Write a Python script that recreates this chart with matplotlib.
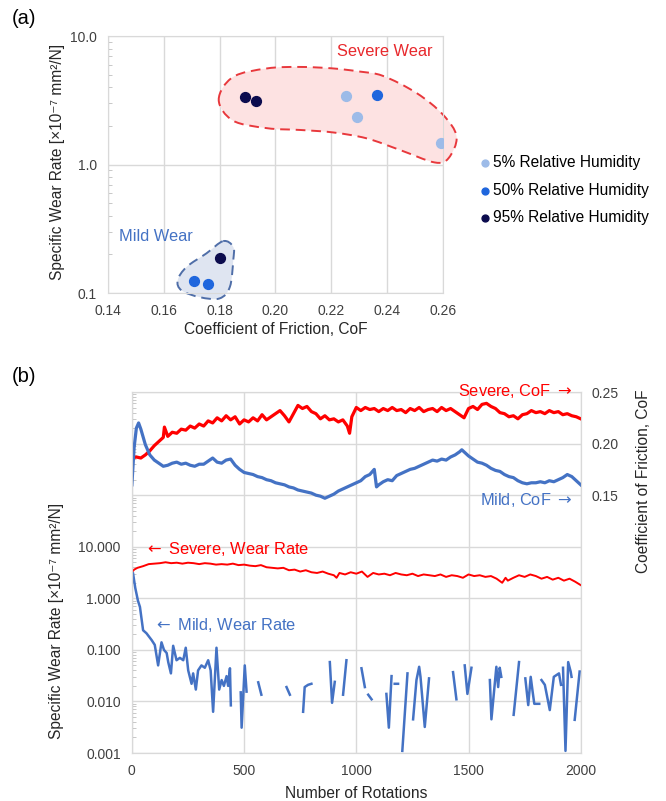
"""
Wear map (a) and wear rate / friction history (b)
"""
import numpy as np
import matplotlib
matplotlib.use("Agg")
import matplotlib.pyplot as plt
from matplotlib.path import Path
from matplotlib.patches import PathPatch

plt.rcParams['font.family'] = ['Liberation Sans', 'DejaVu Sans']
plt.rcParams['font.size'] = 10

RED = '#ff0000'
BLUE = '#4472c4'
GRID = '#d9d9d9'

# ---------------- panel (a) data ----------------
rh_labels = ['5% Relative Humidity', '50% Relative Humidity', '95% Relative Humidity']
rh_colors = ['#9dbbe8', '#1f66dd', '#0c0c4e']
cof_5 = [0.2253, 0.2293, 0.2593]
wr_5 = [3.41, 2.34, 1.48]
cof_50 = [0.2365, 0.171, 0.176]
wr_50 = [3.49, 0.125, 0.117]
cof_95 = [0.189, 0.193, 0.180]
wr_95 = [3.33, 3.12, 0.188]

# outlines of the wear regions (CoF, wear rate)
severe_zone_cof = [0.1797, 0.1848, 0.197, 0.2088, 0.2206, 0.2300, 0.2385, 0.2506, 0.2600,
                   0.2649, 0.2620, 0.2570, 0.2446, 0.2327, 0.2206, 0.2088, 0.197, 0.1848]
severe_zone_wr = [3.2, 4.8, 5.6, 5.75, 5.6, 5.3, 4.9, 3.6, 2.45,
                  1.65, 1.12, 1.04, 1.30, 1.60, 1.78, 1.86, 1.92, 2.2]
mild_zone_cof = [0.1813, 0.1849, 0.1849, 0.1837, 0.180, 0.173, 0.1664, 0.165, 0.1682, 0.1753]
mild_zone_wr = [0.254, 0.229, 0.18, 0.112, 0.091, 0.093, 0.105, 0.126, 0.16, 0.204]

# ---------------- panel (b) data ----------------
sev_cof_rot = [0, 20, 40, 60, 80, 100, 120, 140, 145, 160, 180, 200, 220, 240, 260, 280,
               300, 320, 340, 360, 380, 400, 420, 440, 460, 480, 500, 520, 540, 560,
               580, 600, 620, 640, 660, 680, 700, 720, 740, 760, 780, 800, 820, 840,
               860, 880, 900, 920, 940, 960, 970, 980, 1000, 1020, 1040, 1060, 1080,
               1100, 1120, 1140, 1160, 1180, 1200, 1220, 1240, 1260, 1280, 1300, 1320,
               1340, 1360, 1380, 1400, 1420, 1440, 1460, 1480, 1500, 1520, 1540, 1560,
               1580, 1600, 1620, 1640, 1660, 1680, 1700, 1720, 1740, 1760, 1780, 1800,
               1820, 1840, 1860, 1880, 1900, 1920, 1940, 1960, 1980, 2000]
sev_cof = [0.186, 0.187, 0.186, 0.189, 0.193, 0.198, 0.202, 0.206, 0.216, 0.207, 0.211,
           0.210, 0.214, 0.213, 0.217, 0.215, 0.219, 0.217, 0.222, 0.220, 0.225, 0.222,
           0.227, 0.223, 0.226, 0.219, 0.223, 0.221, 0.225, 0.222, 0.228, 0.223, 0.226,
           0.229, 0.232, 0.227, 0.221, 0.229, 0.237, 0.234, 0.236, 0.231, 0.229, 0.224,
           0.227, 0.223, 0.224, 0.221, 0.223, 0.217, 0.210, 0.226, 0.235, 0.232, 0.235,
           0.233, 0.234, 0.231, 0.234, 0.232, 0.235, 0.232, 0.233, 0.230, 0.234, 0.232,
           0.235, 0.231, 0.233, 0.234, 0.231, 0.235, 0.232, 0.234, 0.231, 0.228, 0.225,
           0.234, 0.236, 0.233, 0.238, 0.239, 0.236, 0.234, 0.230, 0.229, 0.226, 0.227,
           0.224, 0.228, 0.229, 0.232, 0.230, 0.231, 0.229, 0.232, 0.230, 0.231, 0.228,
           0.229, 0.227, 0.226, 0.224]

mild_cof_rot = [0, 10, 20, 30, 40, 60, 80, 100, 120, 140, 160, 180, 200, 220, 240, 260,
                280, 300, 320, 340, 360, 380, 400, 420, 440, 460, 480, 500, 520, 540,
                560, 580, 600, 620, 640, 660, 680, 700, 720, 740, 760, 780, 800, 820,
                840, 860, 880, 900, 920, 940, 960, 980, 1000, 1020, 1040, 1060, 1080,
                1090, 1100, 1120, 1140, 1160, 1180, 1200, 1220, 1240, 1260, 1280, 1300,
                1320, 1340, 1360, 1380, 1400, 1420, 1440, 1460, 1470, 1480, 1500, 1520,
                1540, 1560, 1580, 1600, 1620, 1640, 1660, 1680, 1700, 1720, 1740, 1760,
                1780, 1800, 1820, 1840, 1860, 1880, 1900, 1920, 1940, 1960, 1980, 2000]
mild_cof = [0.160, 0.196, 0.215, 0.220, 0.214, 0.199, 0.189, 0.184, 0.181, 0.178, 0.179,
            0.181, 0.182, 0.180, 0.181, 0.179, 0.178, 0.180, 0.180, 0.183, 0.186, 0.182,
            0.181, 0.184, 0.185, 0.179, 0.175, 0.172, 0.171, 0.170, 0.168, 0.167, 0.165,
            0.164, 0.162, 0.161, 0.160, 0.158, 0.157, 0.155, 0.154, 0.153, 0.152, 0.150,
            0.149, 0.147, 0.149, 0.151, 0.154, 0.156, 0.158, 0.160, 0.162, 0.164, 0.168,
            0.170, 0.175, 0.158, 0.160, 0.163, 0.165, 0.164, 0.169, 0.171, 0.173, 0.175,
            0.176, 0.178, 0.180, 0.182, 0.184, 0.183, 0.185, 0.184, 0.187, 0.189, 0.192,
            0.194, 0.192, 0.188, 0.185, 0.182, 0.181, 0.179, 0.176, 0.174, 0.173, 0.170,
            0.168, 0.167, 0.164, 0.162, 0.161, 0.162, 0.162, 0.163, 0.162, 0.164, 0.163,
            0.165, 0.167, 0.170, 0.168, 0.164, 0.160]

sev_wr_rot = [0, 10, 25, 50, 75, 100, 125, 150, 175, 200, 225, 250, 275, 300, 325, 350,
              375, 400, 425, 450, 475, 500, 525, 550, 575, 600, 625, 650, 675, 700, 725,
              750, 775, 800, 825, 850, 875, 900, 912, 925, 950, 975, 1000, 1025, 1050,
              1075, 1100, 1125, 1150, 1175, 1200, 1225, 1250, 1275, 1300, 1325, 1350,
              1375, 1400, 1425, 1450, 1475, 1500, 1525, 1550, 1575, 1600, 1625, 1650,
              1665, 1675, 1700, 1725, 1750, 1775, 1800, 1825, 1850, 1875, 1900, 1925,
              1950, 1975, 2000]
sev_wr = [3.2, 3.6, 3.9, 4.2, 4.6, 4.7, 4.8, 5.0, 4.8, 4.9, 4.7, 4.9, 4.8, 4.6, 4.8, 4.7,
          4.5, 4.6, 4.5, 4.7, 4.4, 4.5, 4.3, 4.2, 4.4, 4.0, 3.9, 3.8, 3.9, 3.5, 3.6, 3.3,
          3.5, 3.2, 3.1, 3.3, 3.0, 2.8, 2.5, 3.1, 2.9, 3.2, 3.0, 3.3, 2.6, 3.1, 2.9, 3.0,
          2.8, 3.1, 2.9, 2.8, 3.0, 2.7, 2.9, 2.8, 2.7, 2.9, 2.6, 2.8, 2.7, 2.5, 2.9, 2.7,
          2.8, 2.6, 2.7, 2.4, 2.0, 2.5, 2.2, 2.5, 2.8, 2.6, 2.9, 2.7, 2.4, 2.6, 2.3, 2.5,
          2.2, 2.4, 2.1, 1.8]

nan = np.nan
mild_wr_rot = [0, 5, 15, 27, 36, 50, 65, 88, 102, 117, 132, 143, 155, 162, 174, 184, 199,
               214, 229, 240, 251, 266, 273, 285, 295, 310, 325, 340, 351, 362, 377, 389,
               400, 410, 422, 429, 437, 441, 460,
               485, 489, 503, 511, 530,
               563, 577, 600,
               689, 704, 720,
               763, 770, 785, 800, 820,
               882, 892, 904, 920,
               941, 956, 980,
               1023, 1038, 1045, 1053, 1068, 1090,
               1134, 1145, 1157, 1164, 1171, 1186, 1195,
               1205, 1228, 1240,
               1253, 1268, 1280, 1286, 1305, 1324, 1400,
               1431, 1446, 1470,
               1483, 1495, 1513, 1560,
               1595, 1602, 1624, 1632, 1639, 1646, 1680,
               1701, 1725, 1740,
               1753, 1766, 1777, 1786, 1793, 1815, 1820,
               1825, 1840, 1862, 1880, 1903, 1912, 1916,
               1921, 1932, 1944, 1955, 1959, 1966,
               1973, 1995]
mild_wr = [2.0, 3.1, 1.6, 0.9, 0.68, 0.24, 0.21, 0.155, 0.125, 0.05, 0.14, 0.10, 0.087,
           0.058, 0.035, 0.12, 0.063, 0.07, 0.063, 0.11, 0.04, 0.022, 0.035, 0.017, 0.04,
           0.05, 0.045, 0.063, 0.04, 0.0063, 0.11, 0.017, 0.026, 0.02, 0.031, 0.02, 0.044,
           0.0084, nan,
           0.015, 0.0031, 0.05, 0.0155, nan,
           0.0235, 0.0135, nan,
           0.019, 0.0135, nan,
           0.0063, 0.019, 0.021, 0.022, nan,
           0.058, 0.0094, 0.024, nan,
           0.0135, 0.063, nan,
           0.044, 0.019, nan, 0.0135, 0.011, nan,
           0.014, 0.0031, 0.031, nan, 0.022, 0.022, nan,
           0.0011, 0.035, nan,
           0.0045, 0.026, 0.047, 0.03, 0.0032, 0.028, nan,
           0.037, 0.011, nan,
           0.05, 0.014, 0.045, nan,
           0.026, 0.0045, 0.047, 0.019, 0.045, 0.03, nan,
           0.0055, 0.058, nan,
           0.028, 0.0085, 0.03, 0.015, 0.009, 0.009, nan,
           0.026, 0.021, 0.0068, 0.03, 0.035, 0.021, nan,
           0.045, 0.0011, 0.058, 0.038, 0.03, nan,
           0.0044, 0.038]


def blob(ax, xs, ys, face, edge):
    # smooth closed outline through the given points (log y)
    pts = np.column_stack([xs, np.log10(ys)])
    n = len(pts)
    verts = [pts[0]]
    codes = [Path.MOVETO]
    for i in range(n):
        p0, p1, p2, p3 = pts[i - 1], pts[i], pts[(i + 1) % n], pts[(i + 2) % n]
        verts += [p1 + (p2 - p0) / 6, p2 - (p3 - p1) / 6, p2]
        codes += [Path.CURVE4] * 3
    verts = np.array(verts)
    verts[:, 1] = 10 ** verts[:, 1]
    ax.add_patch(PathPatch(Path(verts, codes), facecolor=face, edgecolor=edge,
                           lw=1.4, ls=(0, (5, 3)), clip_on=False, zorder=1))


LBL = 11.2   # axis label size
TCK = 10     # tick label size
ANN = 11.8   # annotation size

fig = plt.figure(figsize=(6.66, 8.01), dpi=100)

# ---------------- (a) ----------------
ax = fig.add_axes([0.162, 0.634, 0.503, 0.321])
ax.set_xlim(0.14, 0.26)
ax.set_ylim(0.1, 10)
ax.set_yscale('log')
ax.set_xticks([0.14, 0.16, 0.18, 0.20, 0.22, 0.24, 0.26])
ax.set_xticklabels(['0.14', '0.16', '0.18', '0.20', '0.22', '0.24', '0.26'])
ax.set_yticks([0.1, 1, 10])
ax.set_yticklabels(['0.1', '1.0', '10.0'])
ax.grid(True, which='major', color=GRID, lw=1)
ax.set_axisbelow(True)
for s in ax.spines.values():
    s.set_color(GRID)
ax.tick_params(which='major', length=0, pad=8, labelsize=TCK, colors='#404040')
ax.tick_params(which='minor', length=3, color='#bfbfbf', direction='in', labelleft=False)

blob(ax, severe_zone_cof, severe_zone_wr, '#fde2e2', '#e8383c')
blob(ax, mild_zone_cof, mild_zone_wr, '#dfe5f1', '#4f6ea8')

ax.scatter(cof_5, wr_5, s=50, color=rh_colors[0], label=rh_labels[0], zorder=3)
ax.scatter(cof_50, wr_50, s=50, color=rh_colors[1], label=rh_labels[1], zorder=3)
ax.scatter(cof_95, wr_95, s=50, color=rh_colors[2], label=rh_labels[2], zorder=3)

ax.text(0.2392, 7.55, 'Severe Wear', color='#e8282c', fontsize=ANN, ha='center', va='center')
ax.text(0.1571, 0.274, 'Mild Wear', color=BLUE, fontsize=ANN, ha='center', va='center')

ax.set_xlabel('Coefficient of Friction, CoF', fontsize=LBL, color='#262626', labelpad=3)
ax.set_ylabel('Specific Wear Rate [×10⁻⁷ mm²/N]', fontsize=LBL, color='#262626')
ax.yaxis.set_label_coords(-0.128, 0.512)

ax.legend(loc='center left', bbox_to_anchor=(1.08, 0.40), frameon=False, fontsize=LBL,
          handletextpad=0.0, handlelength=1.0, markerscale=0.7, labelspacing=0.8,
          borderpad=0)

fig.text(0.018, 0.977, '(a)', fontsize=14.5, va='center')

# ---------------- (b) ----------------
bx = fig.add_axes([0.198, 0.0599, 0.674, 0.4507])
bx.set_yscale('log')
bx.set_ylim(0.001, 10000)
bx.set_xlim(0, 2000)
bx.set_xticks([0, 500, 1000, 1500, 2000])
bx.set_xticklabels(['0', '500', '1000', '1500', '2000'])
bx.set_yticks([0.001, 0.01, 0.1, 1, 10, 100, 1000, 10000])
bx.set_yticklabels(['0.001', '0.010', '0.100', '1.000', '10.000', '', '', ''])
bx.grid(True, which='major', color=GRID, lw=1)
bx.set_axisbelow(True)
for s in bx.spines.values():
    s.set_color(GRID)
bx.tick_params(which='major', length=0, pad=8, labelsize=TCK, colors='#404040')
bx.tick_params(which='minor', length=3, color='#bfbfbf', direction='in', labelleft=False)

bx.plot(sev_wr_rot, sev_wr, color=RED, lw=1.4)
bx.plot(mild_wr_rot, mild_wr, color=BLUE, lw=1.8)

bx.set_xlabel('Number of Rotations', fontsize=LBL, color='#262626', labelpad=6)
bx.set_ylabel('Specific Wear Rate [×10⁻⁷ mm²/N]', fontsize=LBL, color='#262626')
bx.yaxis.set_label_coords(-0.152, 0.366)

bx.text(53, 9.0, r'$\leftarrow$ Severe, Wear Rate', color=RED, fontsize=ANN,
        ha='left', va='center')
bx.text(94, 0.3, r'$\leftarrow$ Mild, Wear Rate', color=BLUE, fontsize=ANN,
        ha='left', va='center')

b2 = bx.twinx()
b2.set_ylim(-0.10, 0.25)
b2.set_yticks([0.15, 0.20, 0.25])
b2.set_yticklabels(['0.15', '0.20', '0.25'])
for s in b2.spines.values():
    s.set_color(GRID)
b2.tick_params(length=0, pad=8, labelsize=TCK, colors='#404040')
b2.plot(sev_cof_rot, sev_cof, color=RED, lw=2.3)
b2.plot(mild_cof_rot, mild_cof, color=BLUE, lw=2.3)
b2.set_ylabel('Coefficient of Friction, CoF', fontsize=LBL, color='#262626')
b2.yaxis.set_label_coords(1.123, 0.753)

b2.text(1964, 0.251, r'Severe, CoF $\rightarrow$', color=RED, fontsize=ANN,
        ha='right', va='center')
b2.text(1964, 0.1455, r'Mild, CoF $\rightarrow$', color=BLUE, fontsize=ANN,
        ha='right', va='center')

fig.text(0.018, 0.530, '(b)', fontsize=14.5, va='center')

fig.savefig('out.png', dpi=100)
